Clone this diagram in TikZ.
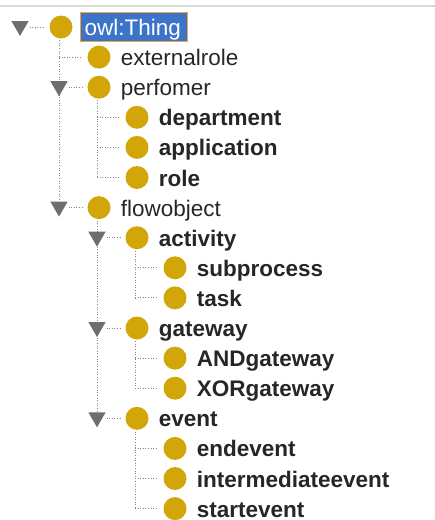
\documentclass[tikz,border=0pt]{standalone}
\usepackage{fontspec}
\setmainfont{Liberation Sans}
\usepackage{xcolor}
\usepackage{tikz}
\usetikzlibrary{shapes.geometric,backgrounds}
\definecolor{owlgold}{HTML}{D2A508}
\definecolor{togray}{HTML}{6E6E6E}
\definecolor{dotgray}{HTML}{858585}
\definecolor{selblue}{HTML}{3C74C9}
\definecolor{selorange}{HTML}{F2A43A}
\definecolor{rulegray}{HTML}{D9D9D9}
\tikzset{
  cls/.style={circle, fill=owlgold, minimum size=23pt, inner sep=0pt},
  tog/.style={regular polygon, regular polygon sides=3, shape border rotate=180,
    fill=togray, minimum size=20pt, inner sep=0pt},
  lab/.style={anchor=base west, inner sep=0pt, text=black!85, text depth=0pt,
    font=\fontsize{22.5}{27}\selectfont},
  labb/.style={lab, font=\fontsize{22.5}{27}\selectfont\bfseries},
  sel/.style={anchor=west, fill=selblue, draw=selorange, line width=1pt, text=white,
    font=\fontsize{22.5}{27}\selectfont, text width=99pt, align=left,
    inner xsep=4pt, inner ysep=1pt, text height=22pt, text depth=5pt},
  dots/.style={draw=dotgray, line width=1pt, dash pattern=on 1pt off 1.6pt},
}

\begin{document}
\begin{tikzpicture}[x=1pt, y=-1pt]
  \useasboundingbox (0,0) rectangle (435,520);
  \draw[rulegray, line width=2pt] (0,6) -- (435,6);   % header rule

  % class icons
  \node[cls] (thing)   at (61,27.0)   {};
  \node[cls] (extrole) at (99,57.1)   {};
  \node[cls] (perf)    at (99,87.2)   {};
  \node[cls] (dept)    at (137,117.3) {};
  \node[cls] (app)     at (137,147.4) {};
  \node[cls] (role)    at (137,177.5) {};
  \node[cls] (flow)    at (99,207.6)  {};
  \node[cls] (act)     at (137,237.7) {};
  \node[cls] (subp)    at (175,267.8) {};
  \node[cls] (task)    at (175,297.9) {};
  \node[cls] (gate)    at (137,328.0) {};
  \node[cls] (andg)    at (175,358.1) {};
  \node[cls] (xorg)    at (175,388.2) {};
  \node[cls] (event)   at (137,418.3) {};
  \node[cls] (endev)   at (175,448.4) {};
  \node[cls] (interev) at (175,478.5) {};
  \node[cls] (startev) at (175,508.6) {};

  % expand toggles
  \node[tog] (tg-thing) at ([xshift=-41pt, yshift=1pt]thing) {};
  \node[tog] (tg-perf)  at ([xshift=-40pt, yshift=1pt]perf)  {};
  \node[tog] (tg-flow)  at ([xshift=-40pt, yshift=1pt]flow)  {};
  \node[tog] (tg-act)   at ([xshift=-40pt, yshift=1pt]act)   {};
  \node[tog] (tg-gate)  at ([xshift=-40pt, yshift=1pt]gate)  {};
  \node[tog] (tg-event) at ([xshift=-40pt, yshift=1pt]event) {};

  % tree lines
  \begin{scope}[on background layer]
  \draw[dots, shorten <=1.5pt] ([xshift=-2pt]thing.south) -- (tg-flow.north);
  \draw[dots, shorten >=5pt] ([xshift=-2pt]thing.south |- extrole) -- (extrole.west);
  \draw[dots, shorten <=1.5pt] ([xshift=-2pt]perf.south) -- ([xshift=-2pt]perf.south |- role);
  \draw[dots, shorten >=5pt] ([xshift=-2pt]perf.south |- dept) -- (dept.west);
  \draw[dots, shorten >=5pt] ([xshift=-2pt]perf.south |- app) -- (app.west);
  \draw[dots, shorten >=5pt] ([xshift=-2pt]perf.south |- role) -- (role.west);
  \draw[dots, shorten <=1.5pt] ([xshift=-2pt]flow.south) -- (tg-event.north);
  \draw[dots, shorten <=1.5pt] ([xshift=-2pt]act.south) -- ([xshift=-2pt]act.south |- task);
  \draw[dots, shorten >=5pt] ([xshift=-2pt]act.south |- subp) -- (subp.west);
  \draw[dots, shorten >=5pt] ([xshift=-2pt]act.south |- task) -- (task.west);
  \draw[dots, shorten <=1.5pt] ([xshift=-2pt]gate.south) -- ([xshift=-2pt]gate.south |- xorg);
  \draw[dots, shorten >=5pt] ([xshift=-2pt]gate.south |- andg) -- (andg.west);
  \draw[dots, shorten >=5pt] ([xshift=-2pt]gate.south |- xorg) -- (xorg.west);
  \draw[dots, shorten <=1.5pt] ([xshift=-2pt]event.south) -- ([xshift=-2pt]event.south |- startev);
  \draw[dots, shorten >=5pt] ([xshift=-2pt]event.south |- endev) -- (endev.west);
  \draw[dots, shorten >=5pt] ([xshift=-2pt]event.south |- interev) -- (interev.west);
  \draw[dots, shorten >=5pt] ([xshift=-2pt]event.south |- startev) -- (startev.west);
  \draw[dots, shorten <=3.5pt, shorten >=5pt] (tg-thing.east |- thing) -- (thing.west);
  \draw[dots, shorten <=3.5pt, shorten >=5pt] (tg-perf.east |- perf) -- (perf.west);
  \draw[dots, shorten <=3.5pt, shorten >=5pt] (tg-flow.east |- flow) -- (flow.west);
  \draw[dots, shorten <=3.5pt, shorten >=5pt] (tg-act.east |- act) -- (act.west);
  \draw[dots, shorten <=3.5pt, shorten >=5pt] (tg-gate.east |- gate) -- (gate.west);
  \draw[dots, shorten <=3.5pt, shorten >=5pt] (tg-event.east |- event) -- (event.west);
  \end{scope}

  % class names
  \node[sel] (thing-t) at ([xshift=7.5pt]thing.east) {owl:Thing};
  \node[lab]  (extrole-t) at ([shift={(10pt,-8.5pt)}]extrole.east) {externalrole};
  \node[lab]  (perf-t)    at ([shift={(10pt,-8.5pt)}]perf.east)    {perfomer};
  \node[labb] (dept-t)    at ([shift={(10pt,-8.5pt)}]dept.east)    {department};
  \node[labb] (app-t)     at ([shift={(10pt,-8.5pt)}]app.east)     {application};
  \node[labb] (role-t)    at ([shift={(10pt,-8.5pt)}]role.east)    {role};
  \node[lab]  (flow-t)    at ([shift={(10pt,-8.5pt)}]flow.east)    {flowobject};
  \node[labb] (act-t)     at ([shift={(10pt,-8.5pt)}]act.east)     {activity};
  \node[labb] (subp-t)    at ([shift={(10pt,-8.5pt)}]subp.east)    {subprocess};
  \node[labb] (task-t)    at ([shift={(10pt,-8.5pt)}]task.east)    {task};
  \node[labb] (gate-t)    at ([shift={(10pt,-8.5pt)}]gate.east)    {gateway};
  \node[labb] (andg-t)    at ([shift={(10pt,-8.5pt)}]andg.east)    {ANDgateway};
  \node[labb] (xorg-t)    at ([shift={(10pt,-8.5pt)}]xorg.east)    {XORgateway};
  \node[labb] (event-t)   at ([shift={(10pt,-8.5pt)}]event.east)   {event};
  \node[labb] (endev-t)   at ([shift={(10pt,-8.5pt)}]endev.east)   {endevent};
  \node[labb] (interev-t) at ([shift={(10pt,-8.5pt)}]interev.east) {intermediateevent};
  \node[labb] (startev-t) at ([shift={(10pt,-8.5pt)}]startev.east) {startevent};
\end{tikzpicture}
\end{document}
